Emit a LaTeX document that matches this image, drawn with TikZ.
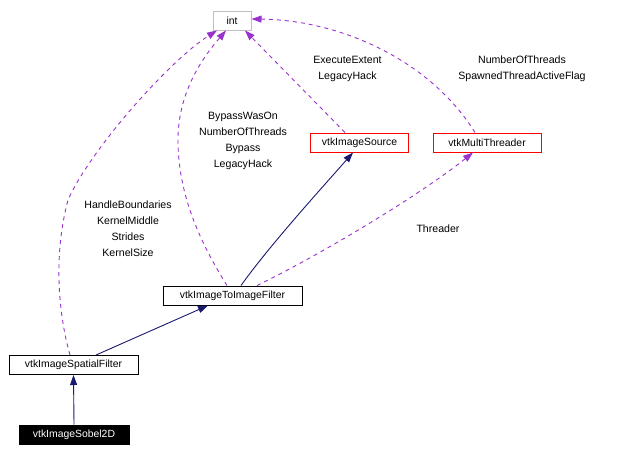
\documentclass[tikz,border=0pt]{standalone}
\usepackage{fontspec}
\setmainfont{Liberation Sans}
\usetikzlibrary{arrows.meta,calc}
\definecolor{navyc}{HTML}{191970}
\definecolor{purp}{HTML}{9A32CD}
\definecolor{grayb}{HTML}{BFBFBF}
\definecolor{redb}{HTML}{FF0000}
\tikzset{
  cls/.style={draw=black,line width=1pt,minimum height=19pt,inner sep=0pt,font=\fontsize{10.4pt}{12pt}\selectfont},
  inh/.style={draw=navyc,line width=0.9pt,-{Triangle[length=10pt,width=7pt]}},
  dep/.style={draw=purp,line width=0.9pt,dash pattern=on 4pt off 4pt,-{Triangle[length=10pt,width=7pt]}},
  lbl/.style={align=center,inner sep=0pt,font=\fontsize{10.6pt}{16pt}\selectfont}
}
\begin{document}
\begin{tikzpicture}[x=1pt,y=-1pt]
\useasboundingbox[fill=white] (0,0) rectangle (618,456);
% nodes
\node[cls,draw=grayb,minimum width=38pt] (int) at (232,20.5) {int};
\node[cls,draw=redb,minimum width=98pt] (is) at (359.5,142.5) {vtkImageSource};
\node[cls,draw=redb,minimum width=108pt] (mt) at (487,142.5) {vtkMultiThreader};
\node[cls,minimum width=139pt] (iti) at (232.5,295.5) {vtkImageToImageFilter};
\node[cls,minimum width=129pt] (sf) at (73.5,365) {vtkImageSpatialFilter};
\node[cls,fill=black,text=white,minimum width=110pt] (sob) at (74,434.5) {vtkImageSobel2D};
% inheritance
\draw[inh] (sob.north) -- (sf.south);
\draw[inh] ([xshift=22.5pt]sf.north) -- ([xshift=-24.5pt]iti.south);
\draw[inh] ([xshift=8.5pt]iti.north) .. controls (270,245) and (320,190) .. ([xshift=-6.5pt]is.south);
% usage
\draw[dep] ([xshift=24.5pt]iti.north) .. controls (320,255) and (420,195) .. ([xshift=-14pt]mt.south);
\draw[dep] ([xshift=-3.5pt]sf.north) .. controls (60,320) and (52,260) .. (68,200) .. controls (90,150) and (170,60) .. ([xshift=-15pt]int.south);
\draw[dep] ([xshift=-5.5pt]iti.north) .. controls (205,250) and (178,200) .. (178,140) .. controls (178,90) and (205,55) .. ([xshift=-6pt]int.south);
\draw[dep] ([xshift=-14.5pt]is.north) -- ([xshift=13pt]int.south);
\draw[dep] ([xshift=-12pt]mt.north) .. controls (430,60) and (340,20) .. ([yshift=1.5pt]int.east);
% labels
\node[lbl] (l1) at (128,229) {HandleBoundaries\\KernelMiddle\\Strides\\KernelSize};
\node[lbl] (l2) at (243,141) {BypassWasOn\\NumberOfThreads\\Bypass\\LegacyHack};
\node[lbl] (l3) at (347.5,69) {ExecuteExtent\\LegacyHack};
\node[lbl] (l4) at (522,69) {NumberOfThreads\\SpawnedThreadActiveFlag};
\node[lbl] (l5) at (438,229) {Threader};
\end{tikzpicture}
\end{document}
